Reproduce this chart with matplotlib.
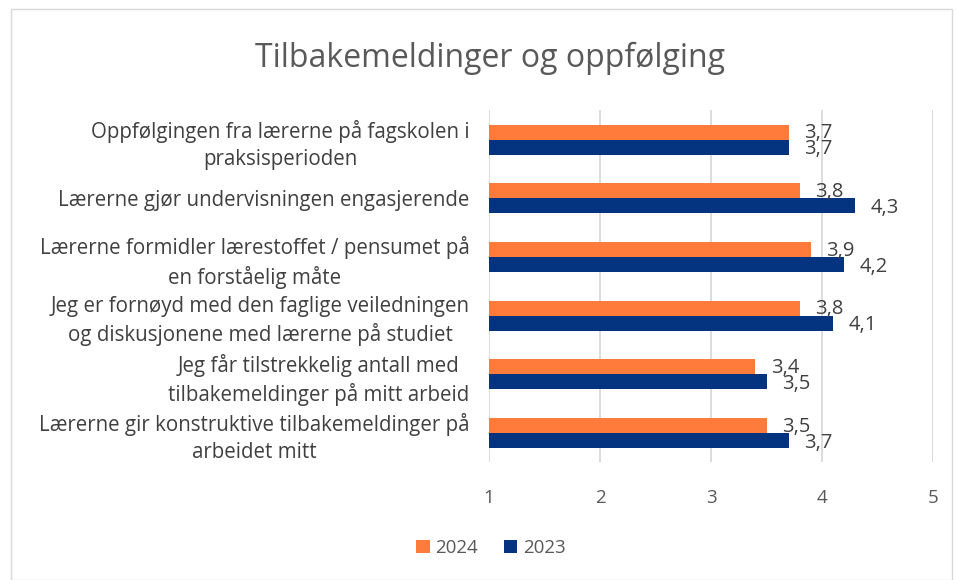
import matplotlib.pyplot as plt
from matplotlib.patches import Rectangle
import numpy as np

plt.rcParams['font.family'] = ['Open Sans', 'DejaVu Sans']

categories = [
    "Oppfølgingen fra lærerne på fagskolen i\npraksisperioden",
    "Lærerne gjør undervisningen engasjerende",
    "Lærerne formidler lærestoffet / pensumet på\nen forståelig måte",
    "Jeg er fornøyd med den faglige veiledningen\nog diskusjonene med lærerne på studiet",
    "Jeg får tilstrekkelig antall med\ntilbakemeldinger på mitt arbeid",
    "Lærerne gir konstruktive tilbakemeldinger på\narbeidet mitt",
]
values_2024 = [3.7, 3.8, 3.9, 3.8, 3.4, 3.5]
values_2023 = [3.7, 4.3, 4.2, 4.1, 3.5, 3.7]
years = ["2024", "2023"]
ticks = [1, 2, 3, 4, 5]

orange = "#FF7B3C"
blue = "#04337F"
text_col = "#404040"
tick_col = "#595959"

fig = plt.figure(figsize=(9.57, 5.8), dpi=100)
ax = fig.add_axes([0.511, 0.203, 0.464, 0.607])

y = np.arange(len(categories))
h = 0.255
ax.barh(y - h / 2, np.array(values_2024) - 1, left=1, height=h, color=orange, label=years[0], zorder=3)
ax.barh(y + h / 2, np.array(values_2023) - 1, left=1, height=h, color=blue, label=years[1], zorder=3)

# data labels, comma as decimal sign (they overlap a bit, like in the original)
for i in range(len(categories)):
    ax.text(values_2024[i] + 0.14, y[i] - h / 2 + 0.02, f"{values_2024[i]:.1f}".replace(".", ","),
            va="center", ha="left", fontsize=14.5, color=text_col)
    ax.text(values_2023[i] + 0.14, y[i] + h / 2 + 0.04, f"{values_2023[i]:.1f}".replace(".", ","),
            va="center", ha="left", fontsize=14.5, color=text_col)

ax.set_xlim(1, 5)
ax.set_ylim(len(categories) - 0.5, -0.5)
ax.set_xticks(ticks)
ax.set_xticklabels([str(t) for t in ticks], fontsize=13.5, color=tick_col)
ax.set_yticks(y)
ax.set_yticklabels(categories, fontsize=14.8, color=text_col, multialignment="center",
                   linespacing=1.35)
ax.tick_params(axis="y", length=0, pad=14)
ax.tick_params(axis="x", length=0, pad=19)
ax.grid(axis="x", color="#D9D9D9", linewidth=1.3, zorder=0)
for s in ax.spines.values():
    s.set_visible(False)

fig.text(0.512, 0.9, "Tilbakemeldinger og oppfølging", ha="center", va="center",
         fontsize=23, color=tick_col)

fig.legend(loc="center", bbox_to_anchor=(0.513, 0.055), ncol=2, frameon=False,
           fontsize=13.5, handlelength=0.7, handleheight=0.7, handletextpad=0.3,
           columnspacing=1.4, labelcolor=tick_col)

fig.patches.append(Rectangle((0.011, 0.0), 0.984, 0.985, transform=fig.transFigure,
                             fill=False, edgecolor="#D9D9D9", linewidth=1))

fig.savefig("out.png", dpi=100)
